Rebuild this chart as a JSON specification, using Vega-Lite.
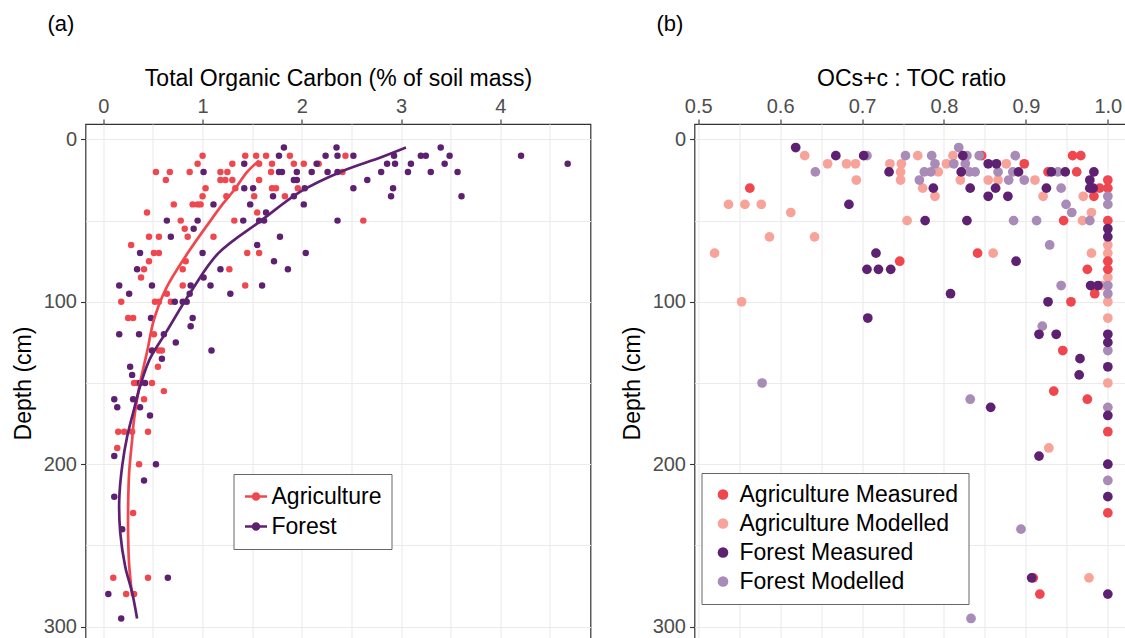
{
  "$schema": "https://vega.github.io/schema/vega-lite/v6.json",
  "background": "white",
  "padding": {"left": 11.5, "top": 12, "right": 0, "bottom": 0},
  "config": {
    "font": "Liberation Sans",
    "view": {"stroke": "#333333", "strokeWidth": 1.2},
    "axis": {"domain": false, "gridColor": "#EBEBEB", "gridWidth": 1.1, "tickColor": "#333333", "tickSize": 5, "tickWidth": 1.1,
      "labelFont": "Liberation Sans", "labelFontSize": 20, "labelColor": "#4D4D4D", "labelFlush": false, "labelOverlap": false,
      "titleFont": "Liberation Sans", "titleFontSize": 23, "titleFontWeight": "normal", "titleColor": "#000000"},
    "legend": {"labelFont": "Liberation Sans", "labelFontSize": 23, "labelColor": "#000000", "labelLimit": 500, "strokeColor": "#666666", "fillColor": "white", "padding": 10, "rowPadding": 5, "titlePadding": 0},
    "title": {"font": "Liberation Sans", "fontSize": 22, "fontWeight": "normal", "color": "#000000"}
  },
  "datasets": {
    "tocPoints": [
      {"landuse":"Agriculture","toc":1.00,"depth":10},{"landuse":"Agriculture","toc":1.43,"depth":10},{"landuse":"Agriculture","toc":1.54,"depth":10},{"landuse":"Agriculture","toc":1.64,"depth":10},
      {"landuse":"Agriculture","toc":0.95,"depth":15},{"landuse":"Agriculture","toc":1.30,"depth":15},{"landuse":"Agriculture","toc":1.57,"depth":15},{"landuse":"Agriculture","toc":1.70,"depth":15},
      {"landuse":"Agriculture","toc":0.53,"depth":20},{"landuse":"Agriculture","toc":0.67,"depth":20},{"landuse":"Agriculture","toc":0.87,"depth":20},{"landuse":"Agriculture","toc":1.18,"depth":20},{"landuse":"Agriculture","toc":1.25,"depth":20},{"landuse":"Agriculture","toc":1.69,"depth":20},
      {"landuse":"Agriculture","toc":0.63,"depth":25},{"landuse":"Agriculture","toc":1.18,"depth":25},{"landuse":"Agriculture","toc":1.23,"depth":25},{"landuse":"Agriculture","toc":1.30,"depth":25},{"landuse":"Agriculture","toc":1.57,"depth":25},
      {"landuse":"Agriculture","toc":1.03,"depth":30},{"landuse":"Agriculture","toc":1.33,"depth":30},{"landuse":"Agriculture","toc":1.70,"depth":30},{"landuse":"Agriculture","toc":1.74,"depth":30},
      {"landuse":"Agriculture","toc":1.00,"depth":35},{"landuse":"Agriculture","toc":1.24,"depth":35},{"landuse":"Agriculture","toc":1.52,"depth":35},{"landuse":"Agriculture","toc":1.83,"depth":35},
      {"landuse":"Agriculture","toc":0.71,"depth":40},{"landuse":"Agriculture","toc":0.90,"depth":40},{"landuse":"Agriculture","toc":0.95,"depth":40},{"landuse":"Agriculture","toc":0.98,"depth":40},
      {"landuse":"Agriculture","toc":0.44,"depth":45},{"landuse":"Agriculture","toc":1.55,"depth":45},
      {"landuse":"Agriculture","toc":0.78,"depth":50},{"landuse":"Agriculture","toc":1.32,"depth":50},{"landuse":"Agriculture","toc":0.82,"depth":55},
      {"landuse":"Agriculture","toc":0.46,"depth":60},{"landuse":"Agriculture","toc":0.56,"depth":60},{"landuse":"Agriculture","toc":0.85,"depth":60},{"landuse":"Agriculture","toc":1.11,"depth":60},
      {"landuse":"Agriculture","toc":0.28,"depth":65},{"landuse":"Agriculture","toc":0.51,"depth":70},{"landuse":"Agriculture","toc":0.56,"depth":70},{"landuse":"Agriculture","toc":1.45,"depth":70},{"landuse":"Agriculture","toc":1.57,"depth":70},
      {"landuse":"Agriculture","toc":0.46,"depth":75},{"landuse":"Agriculture","toc":0.83,"depth":75},
      {"landuse":"Agriculture","toc":2.44,"depth":10},{"landuse":"Agriculture","toc":1.88,"depth":10},{"landuse":"Agriculture","toc":1.92,"depth":15},{"landuse":"Agriculture","toc":2.02,"depth":15},{"landuse":"Agriculture","toc":2.17,"depth":15},
      {"landuse":"Agriculture","toc":2.41,"depth":20},{"landuse":"Agriculture","toc":1.96,"depth":30},{"landuse":"Agriculture","toc":2.62,"depth":50},
      {"landuse":"Agriculture","toc":0.41,"depth":80},{"landuse":"Agriculture","toc":0.38,"depth":85},{"landuse":"Agriculture","toc":1.27,"depth":80},{"landuse":"Agriculture","toc":0.80,"depth":80},
      {"landuse":"Agriculture","toc":0.80,"depth":90},{"landuse":"Agriculture","toc":1.43,"depth":90},{"landuse":"Agriculture","toc":0.64,"depth":95},
      {"landuse":"Agriculture","toc":0.18,"depth":100},{"landuse":"Agriculture","toc":0.52,"depth":100},{"landuse":"Agriculture","toc":0.56,"depth":100},{"landuse":"Agriculture","toc":0.68,"depth":100},
      {"landuse":"Agriculture","toc":0.25,"depth":110},{"landuse":"Agriculture","toc":0.30,"depth":110},{"landuse":"Agriculture","toc":0.51,"depth":120},
      {"landuse":"Agriculture","toc":0.56,"depth":130},{"landuse":"Agriculture","toc":0.59,"depth":130},{"landuse":"Agriculture","toc":0.55,"depth":140},
      {"landuse":"Agriculture","toc":0.31,"depth":150},{"landuse":"Agriculture","toc":0.34,"depth":150},{"landuse":"Agriculture","toc":0.49,"depth":150},{"landuse":"Agriculture","toc":0.61,"depth":155},{"landuse":"Agriculture","toc":0.41,"depth":160},
      {"landuse":"Agriculture","toc":0.15,"depth":180},{"landuse":"Agriculture","toc":0.21,"depth":180},{"landuse":"Agriculture","toc":0.29,"depth":180},{"landuse":"Agriculture","toc":0.45,"depth":180},
      {"landuse":"Agriculture","toc":0.14,"depth":190},{"landuse":"Agriculture","toc":0.36,"depth":200},{"landuse":"Agriculture","toc":0.30,"depth":230},
      {"landuse":"Agriculture","toc":0.10,"depth":270},{"landuse":"Agriculture","toc":0.45,"depth":270},{"landuse":"Agriculture","toc":0.23,"depth":280},{"landuse":"Agriculture","toc":0.31,"depth":280},
      {"landuse":"Forest","toc":1.01,"depth":20},{"landuse":"Forest","toc":1.82,"depth":5},{"landuse":"Forest","toc":1.77,"depth":10},{"landuse":"Forest","toc":1.42,"depth":15},{"landuse":"Forest","toc":1.77,"depth":20},{"landuse":"Forest","toc":1.80,"depth":20},
      {"landuse":"Forest","toc":1.42,"depth":30},{"landuse":"Forest","toc":1.51,"depth":30},{"landuse":"Forest","toc":1.71,"depth":35},{"landuse":"Forest","toc":1.11,"depth":40},{"landuse":"Forest","toc":1.48,"depth":40},{"landuse":"Forest","toc":1.64,"depth":45},
      {"landuse":"Forest","toc":0.64,"depth":50},{"landuse":"Forest","toc":0.95,"depth":50},{"landuse":"Forest","toc":1.41,"depth":50},{"landuse":"Forest","toc":1.57,"depth":50},{"landuse":"Forest","toc":1.62,"depth":50},
      {"landuse":"Forest","toc":0.91,"depth":55},{"landuse":"Forest","toc":0.68,"depth":60},{"landuse":"Forest","toc":1.78,"depth":60},{"landuse":"Forest","toc":1.55,"depth":65},{"landuse":"Forest","toc":0.37,"depth":70},{"landuse":"Forest","toc":1.00,"depth":70},{"landuse":"Forest","toc":1.72,"depth":75},
      {"landuse":"Forest","toc":2.35,"depth":5},{"landuse":"Forest","toc":2.24,"depth":10},{"landuse":"Forest","toc":2.36,"depth":10},{"landuse":"Forest","toc":2.52,"depth":10},{"landuse":"Forest","toc":2.15,"depth":15},
      {"landuse":"Forest","toc":1.95,"depth":20},{"landuse":"Forest","toc":2.10,"depth":20},{"landuse":"Forest","toc":2.26,"depth":20},{"landuse":"Forest","toc":2.36,"depth":20},{"landuse":"Forest","toc":2.80,"depth":20},
      {"landuse":"Forest","toc":1.92,"depth":25},{"landuse":"Forest","toc":1.95,"depth":25},{"landuse":"Forest","toc":2.66,"depth":25},{"landuse":"Forest","toc":2.03,"depth":30},{"landuse":"Forest","toc":2.52,"depth":30},
      {"landuse":"Forest","toc":1.92,"depth":35},{"landuse":"Forest","toc":2.02,"depth":40},{"landuse":"Forest","toc":2.36,"depth":50},{"landuse":"Forest","toc":2.04,"depth":70},
      {"landuse":"Forest","toc":2.93,"depth":10},{"landuse":"Forest","toc":2.86,"depth":15},{"landuse":"Forest","toc":2.94,"depth":15},{"landuse":"Forest","toc":2.90,"depth":35},{"landuse":"Forest","toc":2.92,"depth":30},
      {"landuse":"Forest","toc":3.07,"depth":20},{"landuse":"Forest","toc":3.10,"depth":15},{"landuse":"Forest","toc":3.20,"depth":10},{"landuse":"Forest","toc":3.25,"depth":10},{"landuse":"Forest","toc":3.40,"depth":5},
      {"landuse":"Forest","toc":3.49,"depth":10},{"landuse":"Forest","toc":3.44,"depth":15},{"landuse":"Forest","toc":3.30,"depth":20},{"landuse":"Forest","toc":3.57,"depth":20},{"landuse":"Forest","toc":3.61,"depth":35},
      {"landuse":"Forest","toc":4.21,"depth":10},{"landuse":"Forest","toc":4.68,"depth":15},
      {"landuse":"Forest","toc":0.34,"depth":80},{"landuse":"Forest","toc":1.18,"depth":80},{"landuse":"Forest","toc":1.86,"depth":80},{"landuse":"Forest","toc":1.01,"depth":85},
      {"landuse":"Forest","toc":0.16,"depth":90},{"landuse":"Forest","toc":0.49,"depth":90},{"landuse":"Forest","toc":0.88,"depth":90},{"landuse":"Forest","toc":1.08,"depth":90},{"landuse":"Forest","toc":1.60,"depth":90},
      {"landuse":"Forest","toc":0.26,"depth":95},{"landuse":"Forest","toc":0.87,"depth":95},{"landuse":"Forest","toc":1.28,"depth":95},
      {"landuse":"Forest","toc":0.72,"depth":100},{"landuse":"Forest","toc":0.80,"depth":100},{"landuse":"Forest","toc":0.84,"depth":100},
      {"landuse":"Forest","toc":0.48,"depth":110},{"landuse":"Forest","toc":0.90,"depth":110},{"landuse":"Forest","toc":0.88,"depth":115},
      {"landuse":"Forest","toc":0.16,"depth":120},{"landuse":"Forest","toc":0.36,"depth":120},{"landuse":"Forest","toc":0.61,"depth":120},{"landuse":"Forest","toc":0.73,"depth":125},
      {"landuse":"Forest","toc":0.49,"depth":130},{"landuse":"Forest","toc":1.09,"depth":130},{"landuse":"Forest","toc":0.59,"depth":135},{"landuse":"Forest","toc":0.27,"depth":140},{"landuse":"Forest","toc":0.29,"depth":145},
      {"landuse":"Forest","toc":0.37,"depth":150},{"landuse":"Forest","toc":0.42,"depth":150},{"landuse":"Forest","toc":0.11,"depth":160},{"landuse":"Forest","toc":0.30,"depth":160},
      {"landuse":"Forest","toc":0.14,"depth":165},{"landuse":"Forest","toc":0.37,"depth":165},{"landuse":"Forest","toc":0.47,"depth":170},
      {"landuse":"Forest","toc":0.11,"depth":195},{"landuse":"Forest","toc":0.53,"depth":200},{"landuse":"Forest","toc":0.41,"depth":210},{"landuse":"Forest","toc":0.11,"depth":220},
      {"landuse":"Forest","toc":0.19,"depth":240},{"landuse":"Forest","toc":0.65,"depth":270},{"landuse":"Forest","toc":0.05,"depth":280},{"landuse":"Forest","toc":0.18,"depth":295}
    ],
    "tocCurves": [
      {"landuse":"Agriculture","toc":1.57,"depth":13},{"landuse":"Agriculture","toc":1.45,"depth":20},{"landuse":"Agriculture","toc":1.32,"depth":31},{"landuse":"Agriculture","toc":1.20,"depth":40},
      {"landuse":"Agriculture","toc":1.08,"depth":50},{"landuse":"Agriculture","toc":0.85,"depth":70},{"landuse":"Agriculture","toc":0.63,"depth":92},{"landuse":"Agriculture","toc":0.51,"depth":111},
      {"landuse":"Agriculture","toc":0.44,"depth":131},{"landuse":"Agriculture","toc":0.37,"depth":150},{"landuse":"Agriculture","toc":0.31,"depth":172},{"landuse":"Agriculture","toc":0.29,"depth":185},
      {"landuse":"Agriculture","toc":0.26,"depth":205},{"landuse":"Agriculture","toc":0.25,"depth":225},{"landuse":"Agriculture","toc":0.25,"depth":245},{"landuse":"Agriculture","toc":0.26,"depth":262},{"landuse":"Agriculture","toc":0.29,"depth":281},
      {"landuse":"Forest","toc":3.05,"depth":5},{"landuse":"Forest","toc":2.80,"depth":11},{"landuse":"Forest","toc":2.39,"depth":20},{"landuse":"Forest","toc":1.99,"depth":32},{"landuse":"Forest","toc":1.59,"depth":50},
      {"landuse":"Forest","toc":1.16,"depth":70},{"landuse":"Forest","toc":0.88,"depth":94},{"landuse":"Forest","toc":0.63,"depth":119},{"landuse":"Forest","toc":0.47,"depth":135},{"landuse":"Forest","toc":0.37,"depth":152},
      {"landuse":"Forest","toc":0.31,"depth":166},{"landuse":"Forest","toc":0.24,"depth":183},{"landuse":"Forest","toc":0.19,"depth":201},{"landuse":"Forest","toc":0.16,"depth":222},{"landuse":"Forest","toc":0.17,"depth":242},
      {"landuse":"Forest","toc":0.22,"depth":263},{"landuse":"Forest","toc":0.29,"depth":279},{"landuse":"Forest","toc":0.34,"depth":295}
    ],
    "ratioPoints": [
      {"group":"Agriculture Modelled","ratio":0.630,"depth":10},{"group":"Agriculture Modelled","ratio":0.658,"depth":15},{"group":"Agriculture Modelled","ratio":0.681,"depth":15},{"group":"Agriculture Modelled","ratio":0.692,"depth":15},
      {"group":"Agriculture Modelled","ratio":0.734,"depth":15},{"group":"Agriculture Modelled","ratio":0.748,"depth":15},{"group":"Agriculture Modelled","ratio":0.747,"depth":20},{"group":"Agriculture Modelled","ratio":0.693,"depth":25},
      {"group":"Agriculture Modelled","ratio":0.747,"depth":25},{"group":"Agriculture Modelled","ratio":0.537,"depth":40},{"group":"Agriculture Modelled","ratio":0.557,"depth":40},{"group":"Agriculture Modelled","ratio":0.577,"depth":40},
      {"group":"Agriculture Modelled","ratio":0.613,"depth":45},{"group":"Agriculture Modelled","ratio":0.755,"depth":50},{"group":"Agriculture Modelled","ratio":0.587,"depth":60},{"group":"Agriculture Modelled","ratio":0.642,"depth":60},
      {"group":"Agriculture Modelled","ratio":0.520,"depth":70},{"group":"Agriculture Modelled","ratio":0.553,"depth":100},
      {"group":"Agriculture Modelled","ratio":0.768,"depth":10},{"group":"Agriculture Modelled","ratio":0.811,"depth":10},{"group":"Agriculture Modelled","ratio":0.803,"depth":15},{"group":"Agriculture Modelled","ratio":0.876,"depth":15},
      {"group":"Agriculture Modelled","ratio":0.793,"depth":20},{"group":"Agriculture Modelled","ratio":0.820,"depth":25},{"group":"Agriculture Modelled","ratio":0.854,"depth":25},{"group":"Agriculture Modelled","ratio":0.866,"depth":25},
      {"group":"Agriculture Modelled","ratio":0.911,"depth":25},{"group":"Agriculture Modelled","ratio":0.774,"depth":30},{"group":"Agriculture Modelled","ratio":0.789,"depth":35},{"group":"Agriculture Modelled","ratio":0.921,"depth":35},
      {"group":"Agriculture Modelled","ratio":0.970,"depth":35},{"group":"Agriculture Modelled","ratio":0.980,"depth":45},{"group":"Agriculture Modelled","ratio":0.969,"depth":50},{"group":"Agriculture Modelled","ratio":1.0,"depth":65},
      {"group":"Agriculture Modelled","ratio":0.860,"depth":70},{"group":"Agriculture Modelled","ratio":0.980,"depth":70},{"group":"Agriculture Modelled","ratio":1.0,"depth":70},{"group":"Agriculture Modelled","ratio":0.993,"depth":90},
      {"group":"Agriculture Modelled","ratio":1.0,"depth":85},{"group":"Agriculture Modelled","ratio":1.0,"depth":100},{"group":"Agriculture Modelled","ratio":1.0,"depth":110},{"group":"Agriculture Modelled","ratio":1.0,"depth":150},
      {"group":"Agriculture Modelled","ratio":0.928,"depth":190},{"group":"Agriculture Modelled","ratio":0.977,"depth":270},
      {"group":"Agriculture Measured","ratio":0.563,"depth":30},{"group":"Agriculture Measured","ratio":0.746,"depth":75},{"group":"Agriculture Measured","ratio":0.846,"depth":10},{"group":"Agriculture Measured","ratio":0.957,"depth":10},
      {"group":"Agriculture Measured","ratio":0.967,"depth":10},{"group":"Agriculture Measured","ratio":0.898,"depth":15},{"group":"Agriculture Measured","ratio":0.927,"depth":20},{"group":"Agriculture Measured","ratio":0.962,"depth":20},
      {"group":"Agriculture Measured","ratio":1.0,"depth":25},{"group":"Agriculture Measured","ratio":0.990,"depth":30},{"group":"Agriculture Measured","ratio":1.0,"depth":30},{"group":"Agriculture Measured","ratio":0.983,"depth":35},
      {"group":"Agriculture Measured","ratio":0.946,"depth":50},{"group":"Agriculture Measured","ratio":1.0,"depth":50},{"group":"Agriculture Measured","ratio":0.841,"depth":70},{"group":"Agriculture Measured","ratio":1.0,"depth":75},
      {"group":"Agriculture Measured","ratio":1.0,"depth":80},{"group":"Agriculture Measured","ratio":0.975,"depth":80},{"group":"Agriculture Measured","ratio":0.984,"depth":95},{"group":"Agriculture Measured","ratio":0.955,"depth":100},
      {"group":"Agriculture Measured","ratio":0.945,"depth":130},{"group":"Agriculture Measured","ratio":0.934,"depth":155},{"group":"Agriculture Measured","ratio":0.975,"depth":160},{"group":"Agriculture Measured","ratio":1.0,"depth":180},
      {"group":"Agriculture Measured","ratio":1.0,"depth":230},{"group":"Agriculture Measured","ratio":0.909,"depth":270},{"group":"Agriculture Measured","ratio":0.917,"depth":280},
      {"group":"Forest Modelled","ratio":0.706,"depth":10},{"group":"Forest Modelled","ratio":0.753,"depth":10},{"group":"Forest Modelled","ratio":0.643,"depth":20},{"group":"Forest Modelled","ratio":0.578,"depth":150},
      {"group":"Forest Modelled","ratio":0.818,"depth":5},{"group":"Forest Modelled","ratio":0.785,"depth":10},{"group":"Forest Modelled","ratio":0.828,"depth":10},{"group":"Forest Modelled","ratio":0.843,"depth":10},
      {"group":"Forest Modelled","ratio":0.887,"depth":10},{"group":"Forest Modelled","ratio":0.789,"depth":15},{"group":"Forest Modelled","ratio":0.812,"depth":15},{"group":"Forest Modelled","ratio":0.826,"depth":15},
      {"group":"Forest Modelled","ratio":0.776,"depth":20},{"group":"Forest Modelled","ratio":0.784,"depth":20},{"group":"Forest Modelled","ratio":0.831,"depth":20},{"group":"Forest Modelled","ratio":0.838,"depth":20},
      {"group":"Forest Modelled","ratio":0.866,"depth":20},{"group":"Forest Modelled","ratio":0.884,"depth":20},{"group":"Forest Modelled","ratio":0.939,"depth":20},{"group":"Forest Modelled","ratio":0.770,"depth":25},
      {"group":"Forest Modelled","ratio":0.879,"depth":25},{"group":"Forest Modelled","ratio":0.898,"depth":25},{"group":"Forest Modelled","ratio":0.943,"depth":30},{"group":"Forest Modelled","ratio":1.0,"depth":35},
      {"group":"Forest Modelled","ratio":0.949,"depth":40},{"group":"Forest Modelled","ratio":1.0,"depth":40},{"group":"Forest Modelled","ratio":0.956,"depth":45},{"group":"Forest Modelled","ratio":0.885,"depth":50},
      {"group":"Forest Modelled","ratio":0.913,"depth":50},{"group":"Forest Modelled","ratio":0.978,"depth":50},{"group":"Forest Modelled","ratio":0.929,"depth":65},{"group":"Forest Modelled","ratio":0.943,"depth":90},
      {"group":"Forest Modelled","ratio":1.0,"depth":90},{"group":"Forest Modelled","ratio":1.0,"depth":95},{"group":"Forest Modelled","ratio":0.920,"depth":115},{"group":"Forest Modelled","ratio":1.0,"depth":130},
      {"group":"Forest Modelled","ratio":0.832,"depth":160},{"group":"Forest Modelled","ratio":1.0,"depth":165},{"group":"Forest Modelled","ratio":1.0,"depth":210},{"group":"Forest Modelled","ratio":0.894,"depth":240},
      {"group":"Forest Modelled","ratio":0.833,"depth":295},
      {"group":"Forest Measured","ratio":0.619,"depth":5},{"group":"Forest Measured","ratio":0.668,"depth":10},{"group":"Forest Measured","ratio":0.702,"depth":10},{"group":"Forest Measured","ratio":0.733,"depth":20},
      {"group":"Forest Measured","ratio":0.684,"depth":40},{"group":"Forest Measured","ratio":0.717,"depth":70},{"group":"Forest Measured","ratio":0.706,"depth":80},{"group":"Forest Measured","ratio":0.720,"depth":80},
      {"group":"Forest Measured","ratio":0.735,"depth":80},{"group":"Forest Measured","ratio":0.707,"depth":110},{"group":"Forest Measured","ratio":0.823,"depth":10},{"group":"Forest Measured","ratio":0.854,"depth":15},
      {"group":"Forest Measured","ratio":0.864,"depth":15},{"group":"Forest Measured","ratio":0.821,"depth":20},{"group":"Forest Measured","ratio":0.891,"depth":20},{"group":"Forest Measured","ratio":0.931,"depth":20},
      {"group":"Forest Measured","ratio":0.948,"depth":20},{"group":"Forest Measured","ratio":0.983,"depth":20},{"group":"Forest Measured","ratio":0.978,"depth":25},{"group":"Forest Measured","ratio":0.787,"depth":30},
      {"group":"Forest Measured","ratio":0.832,"depth":30},{"group":"Forest Measured","ratio":0.863,"depth":30},{"group":"Forest Measured","ratio":0.925,"depth":30},{"group":"Forest Measured","ratio":0.978,"depth":30},
      {"group":"Forest Measured","ratio":0.982,"depth":30},{"group":"Forest Measured","ratio":0.854,"depth":35},{"group":"Forest Measured","ratio":0.878,"depth":35},{"group":"Forest Measured","ratio":0.777,"depth":50},
      {"group":"Forest Measured","ratio":0.828,"depth":50},{"group":"Forest Measured","ratio":1.0,"depth":55},{"group":"Forest Measured","ratio":1.0,"depth":60},{"group":"Forest Measured","ratio":0.888,"depth":75},
      {"group":"Forest Measured","ratio":0.979,"depth":90},{"group":"Forest Measured","ratio":0.988,"depth":90},{"group":"Forest Measured","ratio":0.808,"depth":95},{"group":"Forest Measured","ratio":0.927,"depth":100},
      {"group":"Forest Measured","ratio":0.916,"depth":120},{"group":"Forest Measured","ratio":0.937,"depth":120},{"group":"Forest Measured","ratio":1.0,"depth":120},{"group":"Forest Measured","ratio":1.0,"depth":125},
      {"group":"Forest Measured","ratio":0.966,"depth":135},{"group":"Forest Measured","ratio":1.0,"depth":140},{"group":"Forest Measured","ratio":0.965,"depth":145},{"group":"Forest Measured","ratio":0.857,"depth":165},
      {"group":"Forest Measured","ratio":1.0,"depth":170},{"group":"Forest Measured","ratio":0.916,"depth":195},{"group":"Forest Measured","ratio":1.0,"depth":200},{"group":"Forest Measured","ratio":1.0,"depth":220},
      {"group":"Forest Measured","ratio":0.907,"depth":270},{"group":"Forest Measured","ratio":1.0,"depth":280}
    ]
  },
  "resolve": {"scale": {"color": "independent", "x": "independent", "y": "independent"}, "legend": {"color": "independent"}},
  "spacing": 29,
  "hconcat": [
    {
      "width": 505,
      "height": 518,
      "title": {"text": "(a)", "anchor": "start", "frame": "group", "dx": -38, "offset": 31},
      "encoding": {
        "x": {"field": "toc", "type": "quantitative",
          "scale": {"domain": [-0.18, 4.91], "nice": false, "zero": false},
          "axis": {"orient": "top", "title": "Total Organic Carbon (% of soil mass)", "titlePadding": 6, "labelPadding": 3,
            "values": [0, 0.5, 1, 1.5, 2, 2.5, 3, 3.5, 4, 4.5],
            "labelExpr": "datum.value % 1 === 0 ? format(datum.value, 'd') : ''",
            "tickOpacity": {"condition": {"test": "datum.value % 1 !== 0", "value": 0}, "value": 1}}},
        "y": {"field": "depth", "type": "quantitative",
          "scale": {"domain": [-9.5, 309.5], "reverse": true, "nice": false, "zero": false},
          "axis": {"title": "Depth (cm)", "titlePadding": 8, "labelPadding": 4,
            "values": [0, 50, 100, 150, 200, 250, 300],
            "labelExpr": "datum.value % 100 === 0 ? format(datum.value, 'd') : ''",
            "tickOpacity": {"condition": {"test": "datum.value % 100 !== 0", "value": 0}, "value": 1}}},
        "color": {"field": "landuse", "type": "nominal",
          "scale": {"domain": ["Agriculture", "Forest"], "range": ["#F0474F", "#5E2172"]},
          "legend": {"title": null, "orient": "none", "legendX": 148, "legendY": 350, "padding": 10,
            "symbolType": "M-1,0H1M-0.27,0A0.27,0.27,0,1,0,0.27,0A0.27,0.27,0,1,0,-0.27,0Z",
            "symbolSize": 484, "symbolStrokeWidth": 2.6, "labelOffset": 3,
            "encode": {"symbols": {"update": {
              "stroke": {"signal": "datum.value === 'Agriculture' ? '#F0474F' : '#5E2172'"},
              "fill": {"signal": "datum.value === 'Agriculture' ? '#F0474F' : '#5E2172'"},
              "opacity": {"value": 1}}}}}}
      },
      "layer": [
        {"data": {"name": "tocPoints"}, "mark": {"type": "circle", "size": 42, "opacity": 1}},
        {"data": {"name": "tocCurves"}, "mark": {"type": "line", "strokeWidth": 2.7, "interpolate": "catmull-rom"},
          "encoding": {"order": {"field": "depth", "type": "quantitative"}}}
      ]
    },
    {
      "width": 433,
      "height": 518,
      "title": {"text": "(b)", "anchor": "start", "frame": "group", "dx": -38, "offset": 31},
      "data": {"name": "ratioPoints"},
      "mark": {"type": "circle", "size": 95, "opacity": 1},
      "encoding": {
        "x": {"field": "ratio", "type": "quantitative",
          "scale": {"domain": [0.4955, 1.024], "nice": false, "zero": false},
          "axis": {"orient": "top", "title": "OCs+c : TOC ratio", "titlePadding": 6, "labelPadding": 3,
            "values": [0.5, 0.55, 0.6, 0.65, 0.7, 0.75, 0.8, 0.85, 0.9, 0.95, 1.0],
            "labelExpr": "round(datum.value * 100) % 10 === 0 ? format(datum.value, '.1f') : ''",
            "tickOpacity": {"condition": {"test": "round(datum.value * 100) % 10 !== 0", "value": 0}, "value": 1}}},
        "y": {"field": "depth", "type": "quantitative",
          "scale": {"domain": [-9.5, 309.5], "reverse": true, "nice": false, "zero": false},
          "axis": {"title": "Depth (cm)", "titlePadding": 8, "labelPadding": 4,
            "values": [0, 50, 100, 150, 200, 250, 300],
            "labelExpr": "datum.value % 100 === 0 ? format(datum.value, 'd') : ''",
            "tickOpacity": {"condition": {"test": "datum.value % 100 !== 0", "value": 0}, "value": 1}}},
        "color": {"field": "group", "type": "nominal",
          "scale": {"domain": ["Agriculture Measured", "Agriculture Modelled", "Forest Measured", "Forest Modelled"],
            "range": ["#F0474F", "#F8A39A", "#5E2172", "#A88BB6"]},
          "legend": {"title": null, "orient": "none", "legendX": 7, "legendY": 349, "padding": 10,
            "symbolType": "circle", "symbolSize": 113, "symbolOffset": 0, "labelOffset": 5, "symbolOpacity": 1}}
      }
    }
  ]
}
